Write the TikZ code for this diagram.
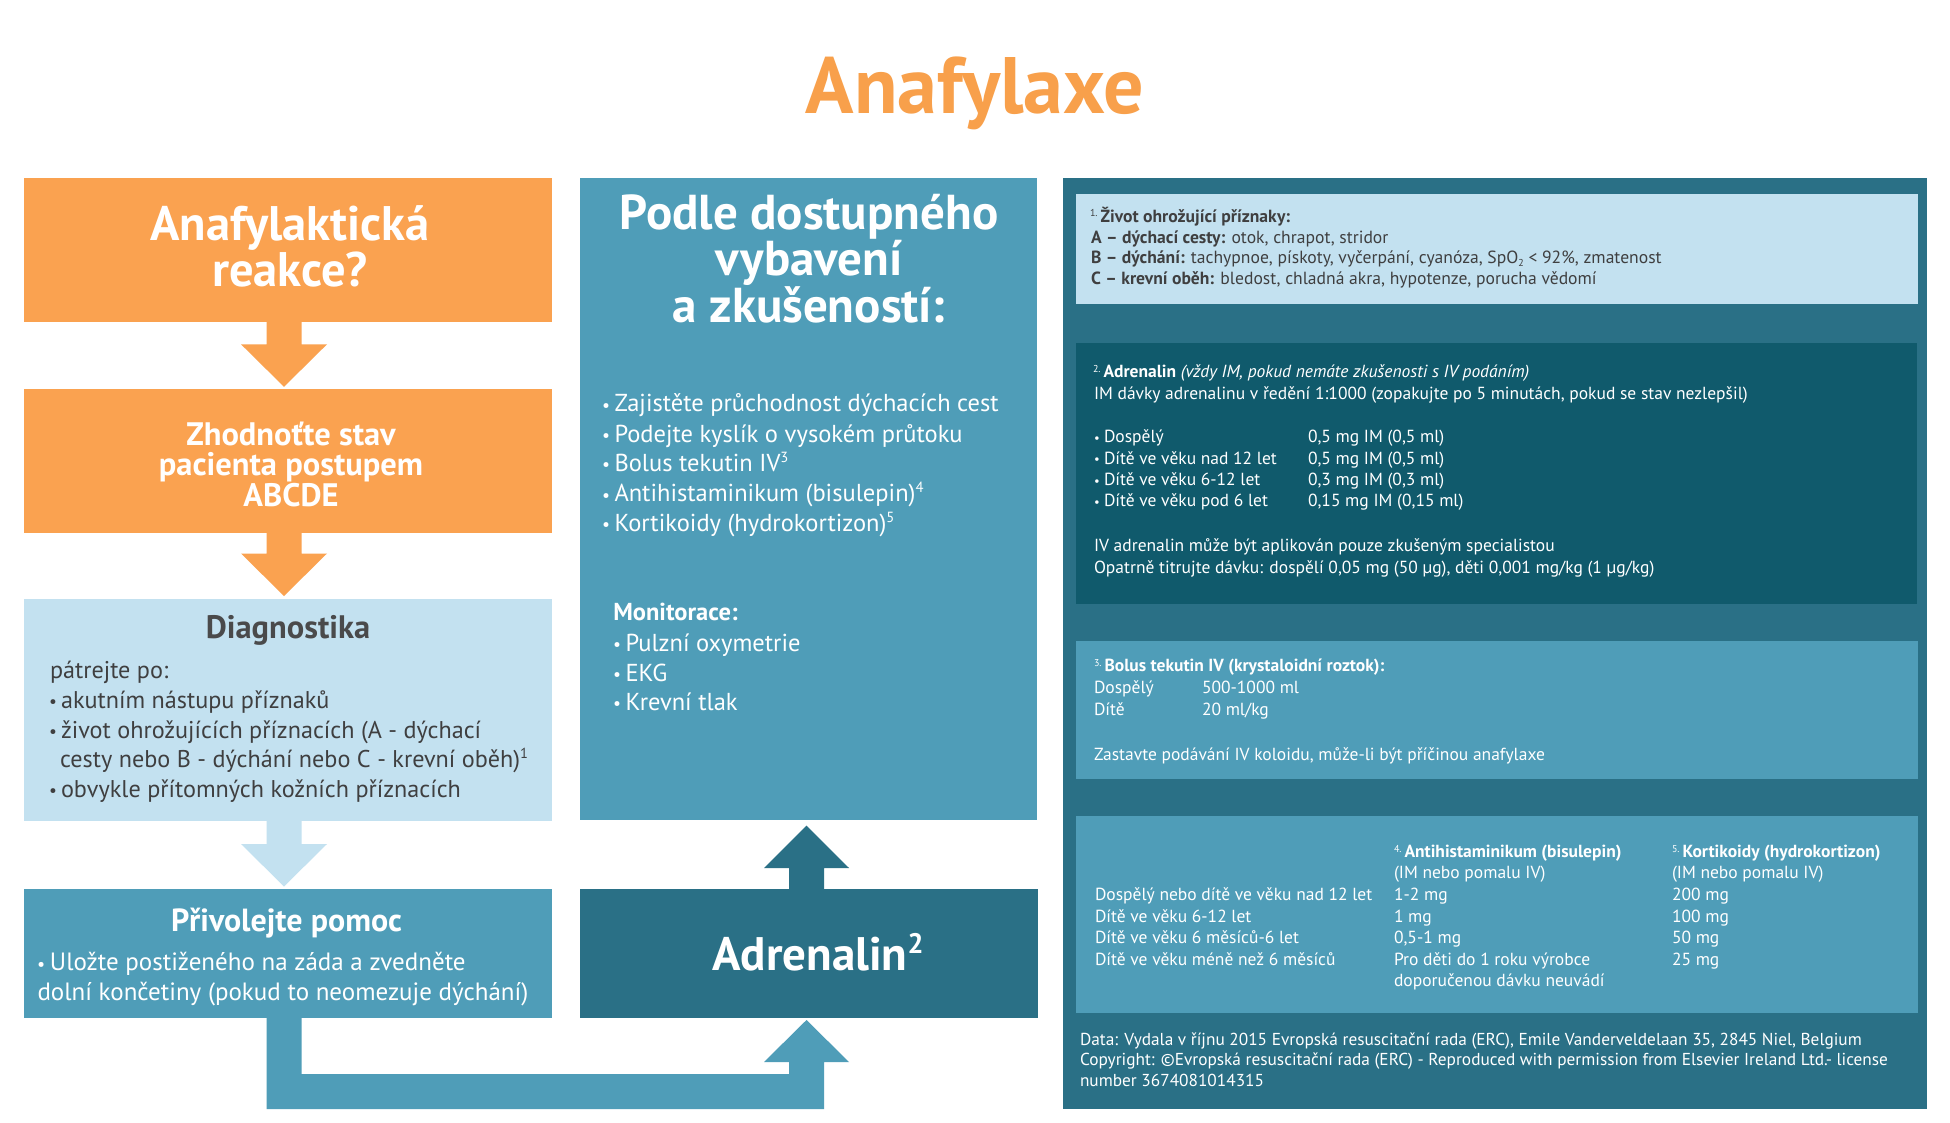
\documentclass[tikz,border=0pt]{standalone}
\usepackage{fontspec}
\setmainfont{PT Sans}
\usetikzlibrary{calc}
\definecolor{orangeC}{HTML}{FAA250}
\definecolor{titleC}{HTML}{F8A04B}
\definecolor{lightC}{HTML}{C3E1F0}
\definecolor{midC}{HTML}{4F9DB8}
\definecolor{darkC}{HTML}{2A7086}
\definecolor{deepC}{HTML}{105A6C}
\definecolor{grayT}{HTML}{3F3F40}
\definecolor{grayH}{HTML}{4A4A4B}
\newcommand\fs[1]{\fontsize{#1}{#1}\selectfont}
\newcommand\bul[1]{\makebox[#1][l]{\raisebox{0.05ex}{\scalebox{0.72}{\textbullet}}}}
\newcommand\sups[1]{\raisebox{0.75ex}{\scalebox{0.6}{#1}}}
\newcommand\fnm[1]{\raisebox{0.65ex}{\fontsize{10}{10}\selectfont #1.}\,}
\newcommand\tline[4]{\node[txt,#2] (#1) at (#3) {#4};}
\newcommand\arrowDown[4]{%
\fill[#1] ($(#2.south-|#4)+(-17.5,0)$) -- ($(#3.north-|#4)+(-17.5,-45)$) -- ($(#3.north-|#4)+(-43,-45)$) -- ($(#3.north-|#4)+(0,-2.5)$) -- ($(#3.north-|#4)+(43,-45)$) -- ($(#3.north-|#4)+(17.5,-45)$) -- ($(#2.south-|#4)+(17.5,0)$) -- cycle;}
\newcommand\arrowUp[4]{%
\fill[#1] ($(#2.north-|#4)+(-17.5,0)$) -- ($(#3.south-|#4)+(-17.5,48)$) -- ($(#3.south-|#4)+(-42.5,48)$) -- ($(#3.south-|#4)+(0,5.7)$) -- ($(#3.south-|#4)+(42.5,48)$) -- ($(#3.south-|#4)+(17.5,48)$) -- ($(#2.north-|#4)+(17.5,0)$) -- cycle;}
\begin{document}
\begin{tikzpicture}[x=1pt,y=-1pt,
  box/.style={draw=none,inner sep=0pt,outer sep=0pt,rectangle},
  txt/.style={inner sep=0pt,outer sep=0pt,anchor=base west},
  ctxt/.style={inner sep=0pt,outer sep=0pt,anchor=base},
  pbody/.style={white,font=\fs{24.5}},
  vbody/.style={white,font=\fs{25}},
  dbody/.style={grayT,font=\fs{24.2}},
  rp/.style={font=\fs{17.6}},
  rpw/.style={white,font=\fs{17.5}}]
\useasboundingbox (0,0) rectangle (1950,1123);
\fill[white] (0,0) rectangle (1950,1123);
\coordinate (axL) at (284,0);
\coordinate (axM) at (806.5,0);
% title
\node[ctxt,titleC,font=\bfseries\fs{80}] (title) at (975,114) {Anafylaxe};
% left column boxes
\node[box,fill=orangeC,minimum width=528pt,minimum height=144pt] (q) at (287.7,250) {};
\node[box,fill=orangeC,minimum width=528pt,minimum height=143.4pt] (abc) at (287.7,461) {};
\node[box,fill=lightC,minimum width=528pt,minimum height=222pt] (diag) at (287.7,709.5) {};
\node[box,fill=midC,minimum width=528pt,minimum height=128.5pt] (pv) at (287.7,953.25) {};
% middle column
\node[box,fill=midC,minimum width=457pt,minimum height=642pt] (pd) at (808.5,499) {};
\node[box,fill=darkC,minimum width=458pt,minimum height=129pt] (ad) at (809,953.5) {};
% right panel
\node[box,fill=darkC,minimum width=863.6pt,minimum height=931pt] (panel) at (1494.8,643.5) {};
\node[box,fill=lightC,minimum width=842pt,minimum height=110pt] (s1) at (1497,249.3) {};
\node[box,fill=deepC,minimum width=841pt,minimum height=261pt] (s2) at (1496.5,473.8) {};
\node[box,fill=midC,minimum width=842pt,minimum height=138.3pt] (s3) at (1497,710.2) {};
\node[box,fill=midC,minimum width=842pt,minimum height=197.3pt] (s4) at (1497,914.7) {};
% arrows
\arrowDown{orangeC}{q}{abc}{axL}
\arrowDown{orangeC}{abc}{diag}{axL}
\arrowDown{lightC}{diag}{pv}{axL}
\arrowUp{darkC}{ad}{pd}{axM}
\fill[midC] ($(pv.south-|axL)+(-17.5,0)$) -- ($(ad.south-|axL)+(-17.5,91)$) -- ($(ad.south-|axM)+(17.5,91)$) -- ($(ad.south-|axM)+(17.5,44)$) -- ($(ad.south-|axM)+(42.5,44)$) -- ($(ad.south-|axM)+(0,2)$) -- ($(ad.south-|axM)+(-42.5,44)$) -- ($(ad.south-|axM)+(-17.5,44)$) -- ($(ad.south-|axM)+(-17.5,56)$) -- ($(ad.south-|axL)+(17.5,56)$) -- ($(pv.south-|axL)+(17.5,0)$) -- cycle;
% left column text
\node[ctxt,white,font=\bfseries\fs{48.5}] (qa) at (290,241) {Anafylaktická};
\node[ctxt,white,font=\bfseries\fs{48.5}] (qb) at (290,286.7) {reakce?};
\node[ctxt,white,font=\bfseries\fs{32.5}] (za) at (291,445) {Zhodnoťte stav};
\node[ctxt,white,font=\bfseries\fs{32.5}] (zb) at (291,475) {pacienta postupem};
\node[ctxt,white,font=\bfseries\fs{32.5}] (zc) at (291,506.7) {ABCDE};
\node[ctxt,grayH,font=\bfseries\fs{32.5}] (dg) at (288,638) {Diagnostika};
\tline{d1}{dbody}{50,678}{pátrejte po:}
\tline{d2}{dbody}{49,708.4}{\bul{12pt}akutním nástupu příznaků}
\tline{d3}{dbody}{49,738.4}{\bul{12pt}život ohrožujících příznacích (A - dýchací}
\tline{d4}{dbody}{60,767.7}{cesty nebo B - dýchání nebo C - krevní oběh)\sups{1}}
\tline{d5}{dbody}{49,797}{\bul{12pt}obvykle přítomných kožních příznacích}
\node[ctxt,white,font=\bfseries\fs{32}] (pvt) at (286.6,931) {Přivolejte pomoc};
\tline{p1}{vbody}{37,970.8}{\bul{13pt}Uložte postiženého na záda a zvedněte}
\tline{p2}{vbody}{37.5,1000.8}{dolní končetiny (pokud to neomezuje dýchání)}
% middle text
\node[ctxt,white,font=\bfseries\fs{49}] (pa) at (809,229.6) {Podle dostupného};
\node[ctxt,white,font=\bfseries\fs{49}] (pb) at (809,276) {vybavení};
\node[ctxt,white,font=\bfseries\fs{49}] (pc) at (809,322.5) {a zkušeností:};
\tline{m1}{pbody}{602,411.8}{\bul{12.5pt}Zajistěte průchodnost dýchacích cest}
\tline{m2}{pbody}{602,442}{\bul{12.5pt}Podejte kyslík o vysokém průtoku}
\tline{m3}{pbody}{602,471.4}{\bul{12.5pt}Bolus tekutin IV\sups{3}}
\tline{m4}{pbody}{602,501.8}{\bul{12.5pt}Antihistaminikum (bisulepin)\sups{4}}
\tline{m5}{pbody}{602,531.4}{\bul{12.5pt}Kortikoidy (hydrokortizon)\sups{5}}
\tline{m6}{pbody}{613.3,620.7}{\textbf{Monitorace:}}
\tline{m7}{pbody}{613,651}{\bul{12.5pt}Pulzní oxymetrie}
\tline{m8}{pbody}{613,681.4}{\bul{12.5pt}EKG}
\tline{m9}{pbody}{613,710}{\bul{12.5pt}Krevní tlak}
\node[ctxt,white,font=\bfseries\fs{47}] (adt) at (818,970.7) {Adrenalin\sups{2}};
% right panel text
\tline{a1}{rp,grayT}{1090,222.7}{\fnm{1}\textbf{Život ohrožující příznaky:}}
\tline{a2}{rp,grayT}{1091,243.3}{\textbf{A -- dýchací cesty:} otok, chrapot, stridor}
\tline{a3}{rp,grayT}{1091,263.3}{\textbf{B -- dýchání:} tachypnoe, pískoty, vyčerpání, cyanóza, SpO\raisebox{-0.4ex}{\fs{10}2} < 92\%, zmatenost}
\tline{a4}{rp,grayT}{1091,284.3}{\textbf{C -- krevní oběh:} bledost, chladná akra, hypotenze, porucha vědomí}
\tline{b1}{rpw}{1093,377.7}{\fnm{2}\textbf{Adrenalin} \textit{(vždy IM, pokud nemáte zkušenosti s IV podáním)}}
\tline{b2}{rpw}{1094,399.3}{IM dávky adrenalinu v ředění 1:1000 (zopakujte po 5 minutách, pokud se stav nezlepšil)}
\tline{b3}{rpw}{1094,442.7}{\bul{10pt}Dospělý}
\tline{b4}{rpw}{1094,464}{\bul{10pt}Dítě ve věku nad 12 let}
\tline{b5}{rpw}{1094,485.7}{\bul{10pt}Dítě ve věku 6-12 let}
\tline{b6}{rpw}{1094,506.7}{\bul{10pt}Dítě ve věku pod 6 let}
\tline{b7}{rpw}{1308,442.7}{0,5 mg IM (0,5 ml)}
\tline{b8}{rpw}{1308,464}{0,5 mg IM (0,5 ml)}
\tline{b9}{rpw}{1308,485.7}{0,3 mg IM (0,3 ml)}
\tline{b10}{rpw}{1308,506.7}{0,15 mg IM (0,15 ml)}
\tline{b11}{rpw}{1094,551.7}{IV adrenalin může být aplikován pouze zkušeným specialistou}
\tline{b12}{rpw}{1094,573.3}{Opatrně titrujte dávku: dospělí 0,05 mg (50 µg), děti 0,001 mg/kg (1 µg/kg)}
\tline{c1}{rpw}{1094,671.7}{\fnm{3}\textbf{Bolus tekutin IV (krystaloidní roztok):}}
\tline{c2}{rpw}{1094,693.3}{Dospělý}
\tline{c3}{rpw}{1202,693.3}{500-1000 ml}
\tline{c4}{rpw}{1094,715}{Dítě}
\tline{c5}{rpw}{1202,715}{20 ml/kg}
\tline{c6}{rpw}{1094,760}{Zastavte podávání IV koloidu, může-li být příčinou anafylaxe}
\tline{e1}{rpw}{1394,857.7}{\fnm{4}\textbf{Antihistaminikum (bisulepin)}}
\tline{e2}{rpw}{1672,857.7}{\fnm{5}\textbf{Kortikoidy (hydrokortizon)}}
\tline{e3}{rpw}{1394,878.3}{(IM nebo pomalu IV)}
\tline{e4}{rpw}{1672,878.3}{(IM nebo pomalu IV)}
\tline{e5}{rpw}{1095,900.7}{Dospělý nebo dítě ve věku nad 12 let}
\tline{e6}{rpw}{1394,900.7}{1-2 mg}
\tline{e7}{rpw}{1672,900.7}{200 mg}
\tline{e8}{rpw}{1095,922.3}{Dítě ve věku 6-12 let}
\tline{e9}{rpw}{1394,922.3}{1 mg}
\tline{e10}{rpw}{1672,922.3}{100 mg}
\tline{e11}{rpw}{1095,943.3}{Dítě ve věku 6 měsíců-6 let}
\tline{e12}{rpw}{1394,943.3}{0,5-1 mg}
\tline{e13}{rpw}{1672,943.3}{50 mg}
\tline{e14}{rpw}{1095,965}{Dítě ve věku méně než 6 měsíců}
\tline{e15}{rpw}{1394,965}{Pro děti do 1 roku výrobce}
\tline{e16}{rpw}{1672,965}{25 mg}
\tline{e17}{rpw}{1394,986.7}{doporučenou dávku neuvádí}
\tline{f1}{white,font=\fs{17.3}}{1080,1045}{Data: Vydala v říjnu 2015 Evropská resuscitační rada (ERC), Emile Vanderveldelaan 35, 2845 Niel, Belgium}
\tline{f2}{white,font=\fs{17.3}}{1080,1065}{Copyright: ©Evropská resuscitační rada (ERC) - Reproduced with permission from Elsevier Ireland Ltd.- license}
\tline{f3}{white,font=\fs{17.3}}{1080,1086.7}{number 3674081014315}
\end{tikzpicture}
\end{document}
